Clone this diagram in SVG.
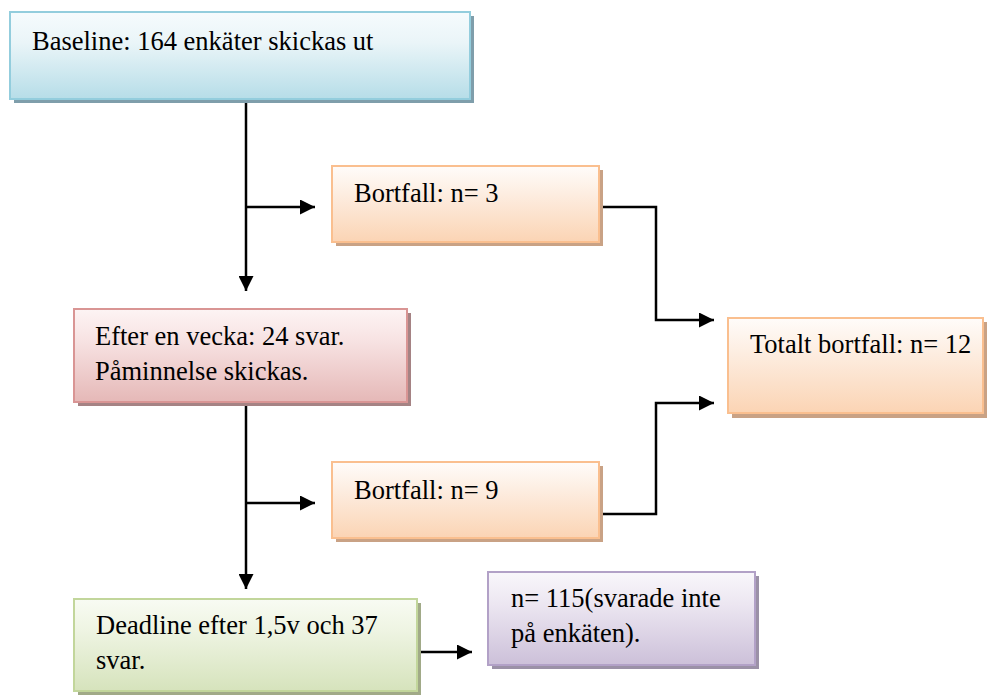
<svg xmlns="http://www.w3.org/2000/svg" width="989" height="695" viewBox="0 0 989 695">
  <defs>
    <linearGradient id="gBlue" x1="0" y1="0" x2="0" y2="1">
      <stop offset="0" stop-color="#f6fbfd"/>
      <stop offset="0.35" stop-color="#eaf5f8"/>
      <stop offset="1" stop-color="#b6dde8"/>
    </linearGradient>
    <linearGradient id="gRed" x1="0" y1="0" x2="0" y2="1">
      <stop offset="0" stop-color="#fdf4f4"/>
      <stop offset="0.35" stop-color="#f7e2e2"/>
      <stop offset="1" stop-color="#e5b8b7"/>
    </linearGradient>
    <linearGradient id="gOrange" x1="0" y1="0" x2="0" y2="1">
      <stop offset="0" stop-color="#fffcfa"/>
      <stop offset="0.35" stop-color="#fdeee2"/>
      <stop offset="1" stop-color="#fbd4b4"/>
    </linearGradient>
    <linearGradient id="gGreen" x1="0" y1="0" x2="0" y2="1">
      <stop offset="0" stop-color="#f8fbf3"/>
      <stop offset="0.35" stop-color="#eef4e2"/>
      <stop offset="1" stop-color="#d6e3bc"/>
    </linearGradient>
    <linearGradient id="gPurple" x1="0" y1="0" x2="0" y2="1">
      <stop offset="0" stop-color="#f9f7fb"/>
      <stop offset="0.35" stop-color="#ece6f1"/>
      <stop offset="1" stop-color="#ccc0d9"/>
    </linearGradient>
    <marker id="arrow" viewBox="0 0 10 10" refX="10" refY="5" markerWidth="6.5" markerHeight="6" markerUnits="strokeWidth" orient="auto">
      <path d="M0,0 L10,5 L0,10 Z" fill="#000"/>
    </marker>
  </defs>
  <style>
    text { font-family: "Liberation Serif", "Times New Roman", serif; font-size: 26.5px; fill: #000; }
    .conn { fill: none; stroke: #000; stroke-width: 2.5; }
    .blue { fill: url(#gBlue); stroke: #93cddd; stroke-width: 2; }
    .red { fill: url(#gRed); stroke: #d99594; stroke-width: 2; }
    .orange { fill: url(#gOrange); stroke: #fabf8f; stroke-width: 2; }
    .green { fill: url(#gGreen); stroke: #c2d69b; stroke-width: 2; }
    .purple { fill: url(#gPurple); stroke: #b2a1c7; stroke-width: 2; }
    .shBlue { fill: #7f9eab; }
    .shRed { fill: #a58384; }
    .shOrange { fill: #c9a285; }
    .shGreen { fill: #a1aa88; }
    .shPurple { fill: #9b91a7; }
  </style>

  <rect width="989" height="695" fill="#fff"/>

  <g id="connectors">
    <path class="conn" d="M246,100 V291" marker-end="url(#arrow)"/>
    <path class="conn" d="M246,207 H315" marker-end="url(#arrow)"/>
    <path class="conn" d="M246,404 V589" marker-end="url(#arrow)"/>
    <path class="conn" d="M246,503 H315" marker-end="url(#arrow)"/>
    <path class="conn" d="M601,207 H656 V320 H714" marker-end="url(#arrow)"/>
    <path class="conn" d="M601,514 H656 V403 H714" marker-end="url(#arrow)"/>
    <path class="conn" d="M419,652 H472" marker-end="url(#arrow)"/>
  </g>

  <g id="baseline">
    <rect class="shBlue" x="14" y="16" width="460" height="87"/>
    <rect class="blue" x="10" y="12" width="460" height="87"/>
    <text x="32" y="50">Baseline: 164 enkäter skickas ut</text>
  </g>

  <g id="bortfall1">
    <rect class="shOrange" x="336" y="170" width="267" height="76"/>
    <rect class="orange" x="332" y="166" width="267" height="76"/>
    <text x="354" y="202">Bortfall: n= 3</text>
  </g>

  <g id="efter">
    <rect class="shRed" x="78" y="313" width="333" height="93"/>
    <rect class="red" x="74" y="309" width="333" height="93"/>
    <text x="95" y="345">Efter en vecka: 24 svar.</text>
    <text x="95" y="380">Påminnelse skickas.</text>
  </g>

  <g id="totalt">
    <rect class="shOrange" x="732" y="322" width="255" height="96"/>
    <rect class="orange" x="728" y="318" width="255" height="95"/>
    <text x="750" y="353">Totalt bortfall: n= 12</text>
  </g>

  <g id="bortfall2">
    <rect class="shOrange" x="336" y="466" width="267" height="76"/>
    <rect class="orange" x="332" y="462" width="267" height="76"/>
    <text x="354" y="499">Bortfall: n= 9</text>
  </g>

  <g id="deadline">
    <rect class="shGreen" x="78" y="603" width="343" height="92"/>
    <rect class="green" x="74" y="599" width="343" height="92"/>
    <text x="96" y="634">Deadline efter 1,5v och 37</text>
    <text x="96" y="669">svar.</text>
  </g>

  <g id="kvar">
    <rect class="shPurple" x="492" y="576" width="267" height="93"/>
    <rect class="purple" x="488" y="572" width="267" height="93"/>
    <text x="511" y="607">n= 115(svarade inte</text>
    <text x="511" y="642">på enkäten).</text>
  </g>
</svg>
